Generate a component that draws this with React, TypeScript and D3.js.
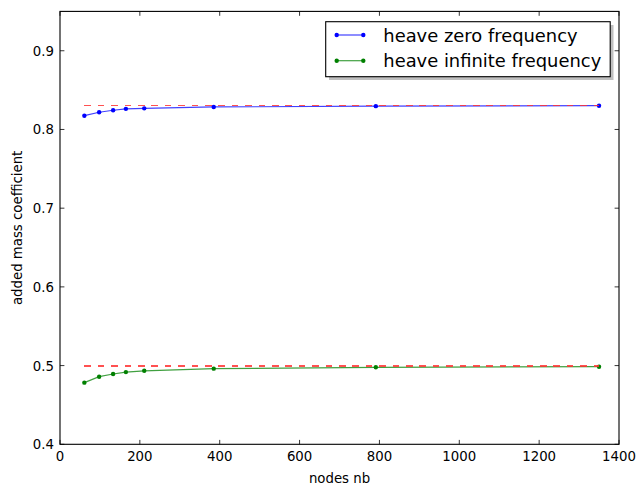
import React from "react";
import * as d3 from "d3";

const nodes = [61, 98, 133, 165, 211, 385, 791, 1350];
const heaveZero = [0.8175, 0.8219, 0.8244, 0.8262, 0.8268, 0.8286, 0.8296, 0.8302];
const heaveInf = [0.4783, 0.4859, 0.4893, 0.4917, 0.4934, 0.4961, 0.4978, 0.4986];
const refZero = 0.8308;
const refInf = 0.4995;
const xTicks = [0, 200, 400, 600, 800, 1000, 1200, 1400];
const yTicks = [0.4, 0.5, 0.6, 0.7, 0.8, 0.9];
const seriesNames = ["heave zero frequency", "heave infinite frequency"];

const W = 639, H = 485;
const L = 60, R = 619, T = 11.4, B = 444.3;
const font = "DejaVu Sans, sans-serif";

export default function App() {
  const x = d3.scaleLinear().domain([0, 1400]).range([L, R]);
  const y = d3.scaleLinear().domain([0.4, 0.95]).range([B, T]);
  const line = d3.line<number>().x((_, i) => x(nodes[i])).y((d) => y(d));
  const series = [
    { vals: heaveZero, color: "#0000ff" },
    { vals: heaveInf, color: "#008000" },
  ];
  const refs = [refZero, refInf];
  const tl = 4.4;
  return (
    <svg width={W} height={H} style={{ position: "absolute", left: 0, top: 0, background: "#fff" }}>
      <rect width={W} height={H} fill="#fff" />
      {series.map((s, k) => (
        <g key={"s" + k}>
          <path d={line(s.vals) || ""} fill="none" stroke={s.color} strokeOpacity={0.75} strokeWidth={1.2} />
          {s.vals.map((v, i) => (
            <circle key={i} cx={x(nodes[i])} cy={y(v)} r={2.2} fill={s.color} />
          ))}
        </g>
      ))}
      {refs.map((r, k) => (
        <line key={"r" + k} x1={x(nodes[0])} x2={x(nodes[nodes.length - 1])} y1={y(r)} y2={y(r)}
          stroke="#ff3333" strokeOpacity={0.85} strokeWidth={1.2} strokeDasharray="6.7,6.7"
          shapeRendering="crispEdges" />
      ))}
      {/* ticks */}
      {xTicks.map((t) => (
        <g key={"xt" + t}>
          <line x1={x(t)} x2={x(t)} y1={B} y2={B - tl} stroke="#000" strokeWidth={0.8} />
          <line x1={x(t)} x2={x(t)} y1={T} y2={T + tl} stroke="#000" strokeWidth={0.8} />
          <text x={x(t)} y={B + 17} textAnchor="middle" fontFamily={font} fontSize={13.3}>{t}</text>
        </g>
      ))}
      {yTicks.map((t) => (
        <g key={"yt" + t}>
          <line x1={L} x2={L + tl} y1={y(t)} y2={y(t)} stroke="#000" strokeWidth={0.8} />
          <line x1={R} x2={R - tl} y1={y(t)} y2={y(t)} stroke="#000" strokeWidth={0.8} />
          <text x={L - 6} y={y(t) + 5} textAnchor="end" fontFamily={font} fontSize={13.3}>{t.toFixed(1)}</text>
        </g>
      ))}
      <rect x={L} y={T} width={R - L} height={B - T} fill="none" stroke="#000" strokeWidth={1.1} />
      <text x={(L + R) / 2} y={483} textAnchor="middle" fontFamily={font} fontSize={13.3}>nodes nb</text>
      <text transform={`translate(22,${(T + B) / 2}) rotate(-90)`} textAnchor="middle" fontFamily={font} fontSize={13.3}>added mass coefficient</text>
      {/* legend */}
      <rect x={329} y={25} width={284.5} height={55} fill="#7f7f7f" opacity={0.5} />
      <rect x={325.7} y={21.7} width={284.5} height={55} fill="#fff" stroke="#000" strokeWidth={1.1} />
      {series.map((s, k) => {
        const ly = 35 + k * 25.7;
        return (
          <g key={"l" + k}>
            <line x1={336.7} x2={363.3} y1={ly} y2={ly} stroke={s.color} strokeOpacity={0.75} strokeWidth={1.2} />
            <circle cx={336.7} cy={ly} r={2.2} fill={s.color} />
            <circle cx={363.3} cy={ly} r={2.2} fill={s.color} />
            <text x={383.3} y={ly + 6.5} fontFamily={font} fontSize={17.9}>{seriesNames[k]}</text>
          </g>
        );
      })}
    </svg>
  );
}
